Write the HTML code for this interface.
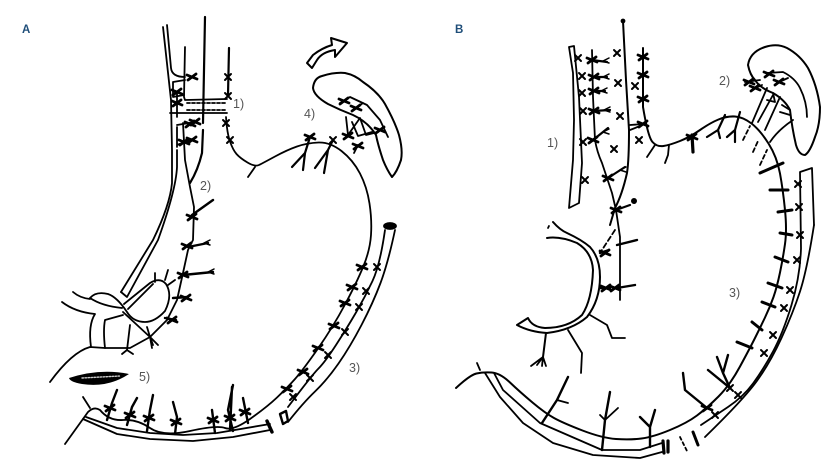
<!DOCTYPE html>
<html><head><meta charset="utf-8"><title>Diagram</title>
<style>
html,body{margin:0;padding:0;background:#fff;width:830px;height:470px;overflow:hidden}
svg{display:block}
text{font-family:"Liberation Sans",sans-serif}
.l{font-size:12.5px;fill:#555}
.h{font-size:11.5px;font-weight:bold;fill:#1f4e79}
</style></head><body>
<svg width="830" height="470" viewBox="0 0 830 470" xmlns="http://www.w3.org/2000/svg">
<defs>
<g id="x"><path d="M-5-2L5 2M-4 3L4-3" fill="none" stroke="#000" stroke-width="2.8" stroke-linecap="round"/></g>
<g id="t"><path d="M-3-3L3 3M-3 3L3-3" fill="none" stroke="#000" stroke-width="2" stroke-linecap="round"/></g>
<g id="f"><path d="M0 0L6-3M0 0L6 2" fill="none" stroke="#000" stroke-width="1.5" stroke-linecap="round"/></g>
</defs>
<text class="h" x="22" y="33">A</text>
<text class="h" x="455" y="33">B</text>
<text class="l" x="233" y="108">1)</text>
<text class="l" x="200" y="190">2)</text>
<text class="l" x="304" y="118">4)</text>
<text class="l" x="139" y="381">5)</text>
<text class="l" x="349" y="372">3)</text>
<text class="l" x="547" y="147">1)</text>
<text class="l" x="719" y="85">2)</text>
<text class="l" x="729" y="297">3)</text>

<g fill="none" stroke="#000" stroke-width="1.8" stroke-linecap="round" stroke-linejoin="round">
<!-- PANEL A -->
<path d="M163 27L171 100L172 150L172 183Q170 205 153 240L121 292"/>
<path d="M167 25L171 68Q172 77 185 77"/>
<path d="M177 150L177 167Q176 190 158 240L127 297L121 292"/>
<path d="M185 47L184 97L185 100L227 99"/>
<path d="M170 113L227 113"/>
<path d="M183 123L185 160L190 187L194 207L193 240L188 250L183 273L177 300L167 320L150 337L130 348L105 348L90 347Q72 352 50 382"/>
<path stroke-width="2.2" d="M205 17L203 123M203 130L202 153Q198 170 190 183"/>
<path stroke-width="2.2" d="M229 48L228 95"/>
<path stroke-dasharray="3 2" d="M187 103L226 103M187 110L226 110"/>
<path d="M173 82L185 80M173 82L173 97L184 95M177 92L177 117M177 127L177 147M177 125L195 122M177 145L195 138"/>
<use href="#x" x="192" y="77"/><use href="#x" x="177" y="92"/><use href="#x" x="177" y="103"/><use href="#x" x="195" y="122"/><use href="#x" x="190" y="124"/><use href="#x" x="192" y="140"/><use href="#x" x="184" y="142"/><use href="#t" x="228" y="77"/><use href="#t" x="228" y="96"/><use href="#t" x="226" y="123"/><use href="#t" x="230" y="140"/>
<path d="M226 117Q227 133 230 141.5T236.5 154T247.5 162.5T259 165T275 156.5T297 146.5T318.5 142.5T341.5 151T360 173.5T369.5 203.5T371 235T363.5 266T345 304.5T318 348.5T295 379T277 397.5T250 419T225 428T190 431T150 428T123 420T100 410Q94 406 88 412L65 444"/>
<path d="M255 167L248 177M83 397L90 408"/>
<path d="M385 230Q380 265 372.5 281T356 312.5T336 345T318.5 368.5T288 407"/>
<path d="M395 230Q388 263 380.5 283T361.5 325T338.5 363.5T315 391.5T288 422"/>
<path d="M86 417L117 428L150 433L183 435L217 433L270 424"/>
<path d="M83 419L117 434L150 439L193 441L233 437L270 430"/>
<ellipse cx="390" cy="226" rx="6" ry="3" fill="#000"/>
<path stroke-width="3.4" d="M267 421L272 432"/>
<path stroke-width="2.4" d="M280 414L286 411L288 421L283 424Z"/>
<!-- duodenum ring -->
<path d="M124 304L150 283Q160 277 166 284Q173 295 165 311Q155 322 145 322Q133 322 127 312Q117 297 108 294Q96 291 90 298Q102 306 122 308"/>
<path d="M128 309L153 284"/>
<path d="M73 292Q80 298 90 299M62 302Q75 312 95 314Q88 325 91 347M105 348Q103 330 105 320L123 315"/>
<path d="M123 312L150 337L153 345M130 325L127 350M147 327L150 337"/>
<path stroke-width="2.4" d="M192 215L213 200M188 247L208 243M183 275L213 272M173 298L188 297M165 318L176 320"/>
<path d="M168 285L175 280M165 280L168 270M155 282L155 273M150 337L158 345M150 337L152 348M127 350L122 354M127 350L133 354"/>
<use href="#x" x="192" y="217"/><use href="#x" x="187" y="246"/><use href="#x" x="183" y="275"/><use href="#f" x="204" y="243"/><use href="#f" x="208" y="272"/><use href="#x" x="186" y="298"/><use href="#x" x="172" y="320"/>
<path d="M310 137L305 153L292 167M305 153L303 170M333 140L328 150L315 168M328 150L324 173" stroke-width="2.2"/>
<use href="#x" x="310" y="137"/><use href="#t" x="333" y="140"/>
<path stroke-width="2.4" d="M107 420L112 403L117 390M127 425L132 407L137 398M147 431L150 410L153 395M175 434L177 417L173 402M215 433L212 410M233 431L228 410L233 385M248 423L243 398M230 430L232 387"/>
<use href="#x" x="110" y="408"/><use href="#x" x="130" y="415"/><use href="#x" x="149" y="418"/><use href="#x" x="176" y="422"/><use href="#x" x="213" y="420"/><use href="#x" x="230" y="418"/><use href="#x" x="245" y="412"/>
<use href="#x" x="362" y="267"/><use href="#x" x="352" y="287"/><use href="#x" x="345" y="303"/><use href="#x" x="334" y="326"/><use href="#x" x="318" y="348"/><use href="#x" x="303" y="372"/><use href="#x" x="287" y="389"/>
<use href="#t" x="377" y="267"/><use href="#t" x="366" y="291"/><use href="#t" x="359" y="307"/><use href="#t" x="345" y="332"/><use href="#t" x="328" y="355"/><use href="#t" x="310" y="378"/><use href="#t" x="293" y="397"/>
<!-- spleen A -->
<path stroke-width="2" d="M313 88Q314 78 322 76Q335 72 345 73Q355 75 363 82Q378 92 385 104Q395 122 399 135Q403 150 401 160Q397 172 392 177Q387 170 383 160Q378 145 376 135Q368 122 353 115Q340 110 328 104Q314 96 313 88Z"/>
<path d="M340 103L350 97L367 105L380 120L388 137M353 110L363 103M346 117L348 135L360 118L366 135L378 132M352 122L358 136L372 132M358 145L354 153"/>
<use href="#x" x="344" y="101"/><use href="#x" x="356" y="108"/><use href="#x" x="380" y="130"/><use href="#x" x="348" y="136"/><use href="#x" x="358" y="146"/>
<path stroke-width="2" d="M307 63L313 55Q322 48 332 45L331 38L347 43L335 57L335 50Q322 52 317 60L312 68Z"/>
<path fill="#000" stroke="none" d="M69 378Q100 368 129 374Q108 388 82 384Q70 382 69 378Z"/>
<path stroke="#ccc" stroke-width="1.4" stroke-dasharray="1.5 1.5" d="M82 378L120 376"/>

<!-- PANEL B -->
<path d="M569 47L574 46L579 97L582 163L579 203L569 208L573 160L574 120L573 73Z"/>
<path d="M592 50L593 97L595 140Q597 152 602 163L612 193L616 210L620 237L620 300"/>
<path stroke-width="2" d="M623 21L626 80L629 130Q629 160 627 173Q622 195 615 208L610 225"/>
<circle cx="623" cy="21" r="1.5" fill="#000"/>
<path stroke-width="2" d="M643 48L643 107Q648 137 652.5 142T663.5 146T680 141T700 130T718.5 119.5T735 116.5T751.5 123.5T768.5 143.5T780 173.5T785 210T785 244T780 272.5T773.5 297T765 317.5T755 338T740 366.5T718.5 396.5T697 415.5T670 430T641.5 438.5T616 439T582.5 430.5T554 418T532.5 402.5T510 382.5T491.5 372.5T476.5 373.5T456 388"/>
<path d="M477 363L480 370"/>
<path d="M485 373L500 397L523 423L553 443L593 455L640 458L662 452"/>
<path d="M494 373L503 390L540 423L602 450L640 450L662 443"/>
<path stroke-width="3.2" d="M663 441L664 453M668 441L668 452"/>
<path stroke-dasharray="3 3" d="M680 437L687 451"/>
<path stroke-width="3" d="M693 432L698 445"/>
<path d="M701 425Q713 417 728 407T753 383.5T773 351.5T791.5 305T801 248.5L800 172L812 168L814 225"/>
<path d="M814 225Q807 270 800 291.5T781.5 338T756.5 381.5T705 437"/>
<!-- duodenal tube B -->
<path stroke-width="2" d="M553 222Q560 230 567 233Q582 240 590 247Q600 258 600 277Q600 300 587 317Q572 330 547 333Q530 332 517 325L528 318Q532 327 545 328Q568 328 582 315Q592 300 593 270Q592 252 577 243Q560 236 547 238"/>
<path d="M549 226L548 228"/>
<path stroke-width="2" d="M546 333L543 357"/>
<path d="M543 357L531 366M543 357L537 365M543 357L542 366M543 357L546 366M568 330L582 353L581 373M590 315L607 325L612 338L625 338"/>
<path stroke-dasharray="5 3" d="M615 230L600 253"/>
<path stroke-width="2.4" d="M600 253L609 250M600 288L610 288M617 245L637 240M617 288L635 285"/>
<use href="#x" x="615" y="288"/><use href="#x" x="605" y="253"/><use href="#x" x="606" y="288"/>
<path stroke-width="2.4" d="M542 423L557 400L568 377M602 450L605 420L610 392M650 447L650 427L655 410M650 427L640 417M707 408L685 390L683 373M730 388L723 373L728 355M730 388L708 370M723 373L717 357"/>
<path d="M557 400L568 403M605 420L600 415M605 420L618 408"/>
<use href="#x" x="707" y="408"/><use href="#t" x="730" y="388"/>
<path stroke-width="3" d="M752 348L737 342M762 330L752 322M775 307L762 302M782 288L768 283M788 262L775 257M792 235L780 233M788 190L770 190M792 210L778 212M783 163L760 173"/>
<use href="#t" x="800" y="235"/><use href="#t" x="797" y="260"/><use href="#t" x="790" y="290"/><use href="#t" x="784" y="308"/><use href="#t" x="773" y="335"/><use href="#t" x="764" y="353"/><use href="#t" x="738" y="395"/><use href="#t" x="715" y="415"/><use href="#t" x="798" y="184"/><use href="#t" x="799" y="207"/>
<use href="#t" x="578" y="58"/><use href="#t" x="582" y="76"/><use href="#t" x="582" y="93"/><use href="#t" x="583" y="111"/><use href="#t" x="583" y="142"/><use href="#t" x="585" y="180"/>
<path stroke-width="2.2" d="M592 60L607 62M593 77L607 77M593 91L605 91M593 111L610 110M593 140L608 128M608 178L625 167M616 210L630 205"/>
<use href="#f" x="603" y="61"/><use href="#f" x="603" y="77"/><use href="#f" x="601" y="91"/><use href="#f" x="604" y="110"/><use href="#f" x="603" y="132"/><use href="#f" x="620" y="170"/>
<use href="#x" x="592" y="60"/><use href="#x" x="594" y="77"/><use href="#x" x="594" y="91"/><use href="#x" x="594" y="111"/><use href="#x" x="593" y="140"/><use href="#x" x="608" y="178"/><use href="#x" x="616" y="210"/>
<circle cx="634" cy="201" r="3" fill="#000" stroke="none"/>
<use href="#t" x="617" y="53"/><use href="#t" x="618" y="83"/><use href="#t" x="620" y="116"/><use href="#t" x="614" y="149"/><use href="#t" x="635" y="86"/><use href="#t" x="639" y="140"/>
<use href="#x" x="643" y="57"/><use href="#x" x="643" y="75"/><use href="#x" x="643" y="99"/><use href="#x" x="643" y="124"/>
<path d="M643 124L630 125M640 126L630 130M655 145L647 157M669 145L668 155L665 163"/>
<path stroke-width="3.2" d="M692 135L693 152"/>
<use href="#x" x="692" y="137"/>
<path stroke-width="2.2" d="M725 115L718 130L707 137M718 130L720 138M740 112L735 130L727 137M735 130L735 142"/>
<path stroke-width="2" d="M748 65Q750 52 765 47Q777 43 787 48Q800 55 808 68Q817 85 820 107Q820 125 815 137Q810 152 805 155Q799 155 796 145Q792 128 790 110Q785 100 773 93Q760 88 755 80Q750 75 748 65Z"/>
<path d="M767 73L783 72Q795 78 800 88Q807 102 807 117M777 83L788 78M745 82L760 80M752 90L762 85"/>
<use href="#x" x="769" y="74"/><use href="#x" x="779" y="82"/><use href="#x" x="749" y="82"/><use href="#x" x="755" y="88"/>
<path d="M752 123L767 88M758 122L773 95M765 130L780 97M770 142Q778 130 793 120M767 100L775 102L773 93M782 105L790 110M780 112L790 115"/>
<path stroke-dasharray="4 3" d="M743 140L750 126M753 152L758 141M760 165L767 150"/>
</g>
</svg>
</body></html>
